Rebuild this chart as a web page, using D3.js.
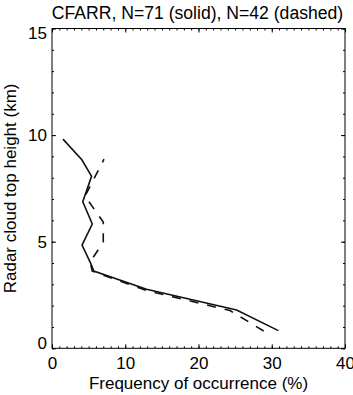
<!DOCTYPE html>
<html>
<head>
<meta charset="utf-8">
<script src="https://cdn.jsdelivr.net/npm/d3@7"></script>
<style>
  body { margin: 0; background: #fff; }
  text { font-family: "Liberation Sans", Arial, sans-serif; fill: #000; }
  .axis path { display: none; }
  .axis line { stroke: #000; stroke-width: 1; }
</style>
</head>
<body>
<div id="chart"></div>
<script>
// Data: frequency (%) against cloud top height (km)
var solidFreq   = [30.9, 25.2, 12.9, 5.7, 5.3, 4.1, 5.5, 4.2, 5.4, 4.1, 1.5];
var solidHeight = [0.83, 1.8, 2.77, 3.62, 3.97, 4.84, 5.83, 6.87, 8.07, 8.83, 9.81];

var dashFreq   = [28.9, 24.3, 12.8, 5.5, 5.2, 7.0, 7.0, 4.5, 7.1];
var dashHeight = [0.81, 1.77, 2.72, 3.62, 4.05, 4.98, 5.92, 7.14, 8.87];

var xTicks = [0, 10, 20, 30, 40],
    yTicks = [0, 5, 10, 15];

var titleText = "CFARR, N=71 (solid), N=42 (dashed)",
    xTitle = "Frequency of occurrence (%)",
    yTitle = "Radar cloud top height (km)";

// State (plot box edges; "top" is taken by window.top so use pTop etc.)
var W = 353, H = 395;
var pLeft = 52, pRight = 345, pTop = 28.5, pBottom = 348.3;

var svg = d3.select('#chart').append('svg')
  .attr('width', W)
  .attr('height', H);

var x = d3.scaleLinear().domain([0, 40]).range([pLeft, pRight]),
    y = d3.scaleLinear().domain([0, 15]).range([pBottom, pTop]);

// minor ticks first, majors on top of them
function minor(axis, vals) { return axis.tickValues(vals).tickFormat('').tickSize(-2); }
var xMinor = d3.range(0, 41, 1), yMinor = d3.range(0, 16, 1);

svg.append('g').attr('class', 'axis').attr('transform', 'translate(0,' + pBottom + ')')
  .call(minor(d3.axisBottom(x), xMinor));
svg.append('g').attr('class', 'axis').attr('transform', 'translate(0,' + pTop + ')')
  .call(minor(d3.axisTop(x), xMinor));
svg.append('g').attr('class', 'axis').attr('transform', 'translate(' + pLeft + ',0)')
  .call(minor(d3.axisLeft(y), yMinor));
svg.append('g').attr('class', 'axis').attr('transform', 'translate(' + pRight + ',0)')
  .call(minor(d3.axisRight(y), yMinor));

var xAxis = svg.append('g').attr('class', 'axis').attr('transform', 'translate(0,' + pBottom + ')')
  .call(d3.axisBottom(x).tickValues(xTicks).tickSize(-4).tickPadding(9));
svg.append('g').attr('class', 'axis').attr('transform', 'translate(0,' + pTop + ')')
  .call(d3.axisTop(x).tickValues(xTicks).tickSize(-4).tickFormat(''));
var yAxis = svg.append('g').attr('class', 'axis').attr('transform', 'translate(' + pLeft + ',0)')
  .call(d3.axisLeft(y).tickValues(yTicks).tickSize(-4).tickPadding(5));
svg.append('g').attr('class', 'axis').attr('transform', 'translate(' + pRight + ',0)')
  .call(d3.axisRight(y).tickValues(yTicks).tickSize(-4).tickFormat(''));

svg.selectAll('.axis text')
  .style('font-size', '17px')
  .style('font-family', '"Liberation Sans", Arial, sans-serif')
  .attr('fill', '#000');

// end labels sit a little inside the box
yAxis.selectAll('.tick text').attr('dy', function(d) {
  if (d === 0) return '0em';
  if (d === 15) return '0.6em';
  return '0.32em';
});

// frame
svg.append('rect')
  .attr('x', pLeft).attr('y', pTop)
  .attr('width', pRight - pLeft).attr('height', pBottom - pTop)
  .attr('fill', 'none').attr('stroke', '#000').attr('stroke-width', 1);

var line = d3.line()
  .x(function(d) { return x(d[0]); })
  .y(function(d) { return y(d[1]); });

svg.append('path')
  .datum(d3.zip(solidFreq, solidHeight))
  .attr('d', line)
  .attr('fill', 'none').attr('stroke', '#111').attr('stroke-width', 1.6);

svg.append('path')
  .datum(d3.zip(dashFreq, dashHeight))
  .attr('d', line)
  .attr('fill', 'none').attr('stroke', '#111').attr('stroke-width', 1.6)
  .attr('stroke-dasharray', '9,9');

// titles
svg.append('text')
  .attr('x', (pLeft + pRight) / 2 - 1).attr('y', 19)
  .attr('text-anchor', 'middle').style('font-size', '17.6px')
  .text(titleText);

svg.append('text')
  .attr('x', (pLeft + pRight) / 2).attr('y', 389)
  .attr('text-anchor', 'middle').style('font-size', '17px')
  .text(xTitle);

svg.append('text')
  .attr('transform', 'translate(16,' + ((pTop + pBottom) / 2) + ') rotate(-90)')
  .attr('text-anchor', 'middle').style('font-size', '17px')
  .text(yTitle);
</script>
</body>
</html>
